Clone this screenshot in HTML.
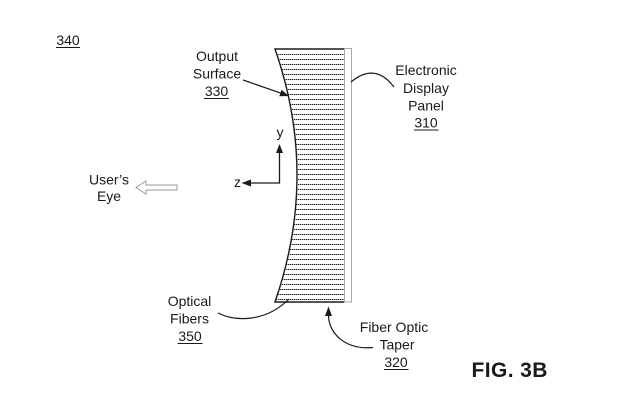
<!DOCTYPE html>
<html>
<head>
<meta charset="utf-8">
<style>
  html,body{margin:0;padding:0;background:#fff;}
  svg{display:block;}
  text{font-family:"Liberation Sans",Arial,sans-serif;fill:#1a1a1a;}
</style>
</head>
<body>
<svg width="625" height="420" viewBox="0 0 625 420" xmlns="http://www.w3.org/2000/svg">
  <defs>
    <clipPath id="taper">
      <path d="M275 49 Q319 175 275 302 L344 302 L344 49 Z"/>
    </clipPath>
    <pattern id="hatch" patternUnits="userSpaceOnUse" x="0" y="54" width="2" height="5">
      <rect x="0" y="0" width="1.4" height="1" fill="#1e1e1e"/>
    </pattern>
  </defs>

  <!-- hatch (optical fibers) -->
  <rect x="270" y="53" width="74" height="247" fill="url(#hatch)" clip-path="url(#taper)"/>

  <!-- display panel -->
  <rect x="344.5" y="48.5" width="7" height="253.5" fill="#fff" stroke="#a8a8a8" stroke-width="1"/>

  <!-- taper outline -->
  <path d="M344 49 L275 49 Q319 175 275 302 L344 302" fill="none" stroke="#1a1a1a" stroke-width="1.4"/>

  <!-- 340 -->
  <text x="68" y="45" font-size="14" text-anchor="middle">340</text>
  <line x1="56" y1="47.5" x2="80" y2="47.5" stroke="#1a1a1a" stroke-width="1"/>

  <!-- Output Surface 330 -->
  <text x="217" y="61" font-size="14" text-anchor="middle">Output</text>
  <text x="217" y="78.5" font-size="14" text-anchor="middle">Surface</text>
  <text x="216.5" y="96" font-size="14" text-anchor="middle">330</text>
  <line x1="204" y1="98.5" x2="229" y2="98.5" stroke="#1a1a1a" stroke-width="1"/>
  <line x1="243" y1="80" x2="281" y2="93.2" stroke="#1a1a1a" stroke-width="1.2"/>
  <polygon points="289,96 281.6,89.7 279.3,96.3" fill="#1a1a1a"/>

  <!-- Electronic Display Panel 310 -->
  <text x="426" y="75" font-size="14" text-anchor="middle">Electronic</text>
  <text x="426" y="93" font-size="14" text-anchor="middle">Display</text>
  <text x="426" y="110.5" font-size="14" text-anchor="middle">Panel</text>
  <text x="426" y="127.5" font-size="14" text-anchor="middle">310</text>
  <line x1="414" y1="130" x2="438.5" y2="130" stroke="#1a1a1a" stroke-width="1"/>
  <path d="M351 82 Q375 62 394 87" fill="none" stroke="#1a1a1a" stroke-width="1.2"/>

  <!-- axes -->
  <line x1="279.5" y1="183" x2="279.5" y2="152" stroke="#1a1a1a" stroke-width="1.3"/>
  <polygon points="279.5,144 276,153 283,153" fill="#1a1a1a"/>
  <line x1="280" y1="183" x2="250" y2="183" stroke="#1a1a1a" stroke-width="1.3"/>
  <polygon points="241.5,183 251,179.5 251,186.5" fill="#1a1a1a"/>
  <text x="280" y="137" font-size="14" text-anchor="middle">y</text>
  <text x="237.5" y="187" font-size="14" text-anchor="middle">z</text>

  <!-- User's Eye -->
  <text x="109" y="184.5" font-size="14" text-anchor="middle">User’s</text>
  <text x="109" y="201" font-size="14" text-anchor="middle">Eye</text>
  <polygon points="136,187.5 146,181 146,185 177,185 177,190 146,190 146,194" fill="#fff" stroke="#999" stroke-width="1"/>

  <!-- Optical Fibers 350 -->
  <text x="189.5" y="306" font-size="14" text-anchor="middle">Optical</text>
  <text x="189.5" y="323.5" font-size="14" text-anchor="middle">Fibers</text>
  <text x="190" y="341" font-size="14" text-anchor="middle">350</text>
  <line x1="177.5" y1="343.5" x2="202.5" y2="343.5" stroke="#1a1a1a" stroke-width="1"/>
  <path d="M218 313 C236 322 266 322 289 299" fill="none" stroke="#1a1a1a" stroke-width="1.2"/>

  <!-- Fiber Optic Taper 320 -->
  <text x="394" y="332" font-size="14" text-anchor="middle">Fiber Optic</text>
  <text x="397" y="349.5" font-size="14" text-anchor="middle">Taper</text>
  <text x="396" y="367" font-size="14" text-anchor="middle">320</text>
  <line x1="384" y1="369.5" x2="408.5" y2="369.5" stroke="#1a1a1a" stroke-width="1"/>
  <path d="M373 347.5 C346 350 328.5 334 328.5 315" fill="none" stroke="#1a1a1a" stroke-width="1.2"/>
  <polygon points="328.5,306.5 325,316 332,316" fill="#1a1a1a"/>

  <!-- FIG. 3B -->
  <text x="471.5" y="377" font-size="21" font-weight="bold" letter-spacing="0.4">FIG. 3B</text>
</svg>
</body>
</html>
